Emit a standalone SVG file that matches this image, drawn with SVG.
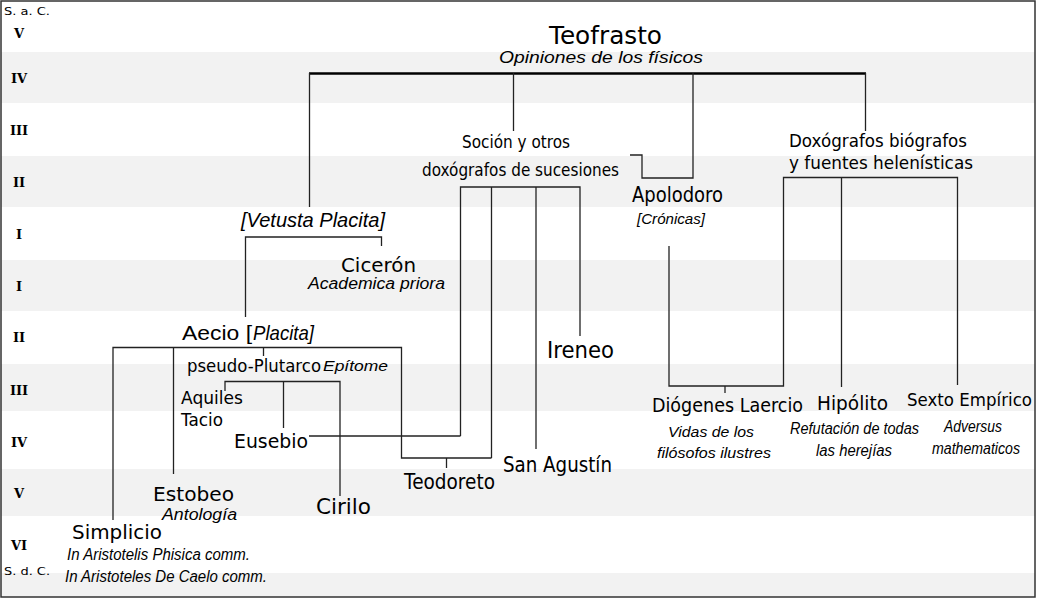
<svg xmlns="http://www.w3.org/2000/svg" width="1038" height="599" viewBox="0 0 1038 599">
<style>
.n{font-family:"DejaVu Sans","Liberation Sans",sans-serif;fill:#000}
.a{font-family:"Liberation Sans",Arial,sans-serif;fill:#000}
.i{font-family:"Liberation Sans",Arial,sans-serif;font-style:italic;fill:#000}
.r{font-family:"DejaVu Serif","Liberation Serif",serif;font-weight:bold;font-size:13px;fill:#000;text-anchor:middle}
.c{fill:none;stroke:#222;stroke-width:1.3}
.band{fill:#f2f2f2}
</style>
<rect x="0" y="0" width="1038" height="599" fill="#fff"/>
<g id="bands">
<rect class="band" x="1" y="52" width="1034" height="51"/>
<rect class="band" x="1" y="156" width="1034" height="51"/>
<rect class="band" x="1" y="260" width="1034" height="51"/>
<rect class="band" x="1" y="364" width="1034" height="47"/>
<rect class="band" x="1" y="469" width="1034" height="47"/>
<rect class="band" x="1" y="573" width="1034" height="24"/>
</g>
<rect x="1" y="1" width="1034" height="596" fill="none" stroke="#333" stroke-width="1.5"/>
<g id="timeline">
<text class="n" x="4" y="15" font-size="11" textLength="46" lengthAdjust="spacingAndGlyphs">S. a. C.</text>
<text class="r" x="19" y="38">V</text>
<text class="r" x="19" y="83">IV</text>
<text class="r" x="19" y="135">III</text>
<text class="r" x="19" y="187">II</text>
<text class="r" x="19" y="239">I</text>
<text class="r" x="19" y="291">I</text>
<text class="r" x="19" y="342">II</text>
<text class="r" x="19" y="395">III</text>
<text class="r" x="19" y="447">IV</text>
<text class="r" x="19" y="498">V</text>
<text class="r" x="19" y="550">VI</text>
<text class="n" x="4" y="575" font-size="11" textLength="46" lengthAdjust="spacingAndGlyphs">S. d. C.</text>
</g>
<g id="connectors">
<path d="M309,73.5 H866" fill="none" stroke="#000" stroke-width="2.5"/>
<path class="c" d="M309.5,73 V207"/>
<path class="c" d="M513.5,73 V131"/>
<path class="c" d="M630,155 H642 V178 H693 V73"/>
<path class="c" d="M865.5,73 V131"/>
<path class="c" d="M245.5,317 V237 H381.5 V246"/>
<path class="c" d="M113,520 V347.5 H401.5 V458 H491.5"/>
<path class="c" d="M173.5,347.5 V474"/>
<path class="c" d="M263.5,347.5 V356"/>
<path class="c" d="M460.5,436 V187 H580 V336"/>
<path class="c" d="M491.5,187 V458"/>
<path class="c" d="M536,187 V449"/>
<path class="c" d="M309,436 H460.5"/>
<path class="c" d="M446.5,458 V468"/>
<path class="c" d="M225,391 V381.5 H340 V496"/>
<path class="c" d="M283.5,381.5 V428"/>
<path class="c" d="M669,246 V386 H783.5 V177.5 H957.5 V385"/>
<path class="c" d="M841.5,177.5 V387"/>
<path class="c" d="M725,386 V393"/>
</g>
<g id="teofrasto">
<text class="n" x="549" y="44" font-size="24" textLength="113" lengthAdjust="spacingAndGlyphs">Teofrasto</text>
<text class="i" x="499" y="63" font-size="17" textLength="204" lengthAdjust="spacingAndGlyphs">Opiniones de los físicos</text>
</g>
<g id="socion">
<text class="n" x="462" y="148" font-size="18" textLength="108" lengthAdjust="spacingAndGlyphs">Soción y otros</text>
<text class="n" x="422" y="176" font-size="18" textLength="197" lengthAdjust="spacingAndGlyphs">doxógrafos de sucesiones</text>
</g>
<g id="apolodoro">
<text class="n" x="632" y="201.5" font-size="22" textLength="91" lengthAdjust="spacingAndGlyphs">Apolodoro</text>
<text class="i" x="637" y="224" font-size="14" textLength="68" lengthAdjust="spacingAndGlyphs">[Crónicas]</text>
</g>
<g id="doxografos">
<text class="n" x="789" y="147" font-size="18" textLength="178" lengthAdjust="spacingAndGlyphs">Doxógrafos biógrafos</text>
<text class="n" x="789" y="168.5" font-size="18" textLength="184" lengthAdjust="spacingAndGlyphs">y fuentes helenísticas</text>
</g>
<g id="vetusta">
<text class="i" x="241" y="227" font-size="21" textLength="144" lengthAdjust="spacingAndGlyphs">[Vetusta Placita]</text>
</g>
<g id="ciceron">
<text class="n" x="341" y="272" font-size="20" textLength="75" lengthAdjust="spacingAndGlyphs">Cicerón</text>
<text class="i" x="308" y="288.5" font-size="16" textLength="137" lengthAdjust="spacingAndGlyphs">Academica priora</text>
</g>
<g id="aecio">
<text class="a" x="182" y="339.5" font-size="21" textLength="70" lengthAdjust="spacingAndGlyphs">Aecio [</text>
<text class="i" x="253" y="339.5" font-size="21" textLength="61" lengthAdjust="spacingAndGlyphs">Placita]</text>
</g>
<g id="pseudo-plutarco">
<text class="n" x="187" y="372" font-size="17" textLength="134" lengthAdjust="spacingAndGlyphs">pseudo-Plutarco</text>
<text class="i" x="323" y="371" font-size="15" textLength="65" lengthAdjust="spacingAndGlyphs">Epítome</text>
</g>
<g id="aquiles">
<text class="n" x="181" y="404" font-size="17" textLength="62" lengthAdjust="spacingAndGlyphs">Aquiles</text>
<text class="n" x="181" y="426" font-size="17" textLength="42" lengthAdjust="spacingAndGlyphs">Tacio</text>
</g>
<g id="eusebio">
<text class="n" x="234" y="447.5" font-size="19" textLength="74" lengthAdjust="spacingAndGlyphs">Eusebio</text>
</g>
<g id="estobeo">
<text class="n" x="153" y="501" font-size="20" textLength="81" lengthAdjust="spacingAndGlyphs">Estobeo</text>
<text class="i" x="162" y="520" font-size="16" textLength="75" lengthAdjust="spacingAndGlyphs">Antología</text>
</g>
<g id="cirilo">
<text class="n" x="316" y="513.5" font-size="21" textLength="55" lengthAdjust="spacingAndGlyphs">Cirilo</text>
</g>
<g id="simplicio">
<text class="n" x="72" y="539" font-size="20" textLength="90" lengthAdjust="spacingAndGlyphs">Simplicio</text>
<text class="i" x="67" y="560" font-size="16" textLength="183" lengthAdjust="spacingAndGlyphs">In Aristotelis Phisica comm.</text>
<text class="i" x="65" y="582" font-size="16" textLength="202" lengthAdjust="spacingAndGlyphs">In Aristoteles De Caelo comm.</text>
</g>
<g id="ireneo">
<text class="n" x="547" y="357.5" font-size="23" textLength="67" lengthAdjust="spacingAndGlyphs">Ireneo</text>
</g>
<g id="teodoreto">
<text class="n" x="404" y="488.5" font-size="22" textLength="91" lengthAdjust="spacingAndGlyphs">Teodoreto</text>
</g>
<g id="san-agustin">
<text class="n" x="503" y="471.5" font-size="22" textLength="109" lengthAdjust="spacingAndGlyphs">San Agustín</text>
</g>
<g id="diogenes">
<text class="n" x="652" y="412" font-size="19" textLength="151" lengthAdjust="spacingAndGlyphs">Diógenes Laercio</text>
<text class="i" x="668" y="437" font-size="15" textLength="86" lengthAdjust="spacingAndGlyphs">Vidas de los</text>
<text class="i" x="657" y="457.5" font-size="15" textLength="114" lengthAdjust="spacingAndGlyphs">filósofos ilustres</text>
</g>
<g id="hipolito">
<text class="n" x="817" y="410" font-size="19" textLength="71" lengthAdjust="spacingAndGlyphs">Hipólito</text>
<text class="i" x="790" y="433.5" font-size="16" textLength="129" lengthAdjust="spacingAndGlyphs">Refutación de todas</text>
<text class="i" x="816" y="456" font-size="16" textLength="76" lengthAdjust="spacingAndGlyphs">las herejías</text>
</g>
<g id="sexto">
<text class="n" x="907" y="406" font-size="18" textLength="125" lengthAdjust="spacingAndGlyphs">Sexto Empírico</text>
<text class="i" x="944" y="432" font-size="16" textLength="58" lengthAdjust="spacingAndGlyphs">Adversus</text>
<text class="i" x="932" y="454" font-size="16" textLength="88" lengthAdjust="spacingAndGlyphs">mathematicos</text>
</g>
</svg>
